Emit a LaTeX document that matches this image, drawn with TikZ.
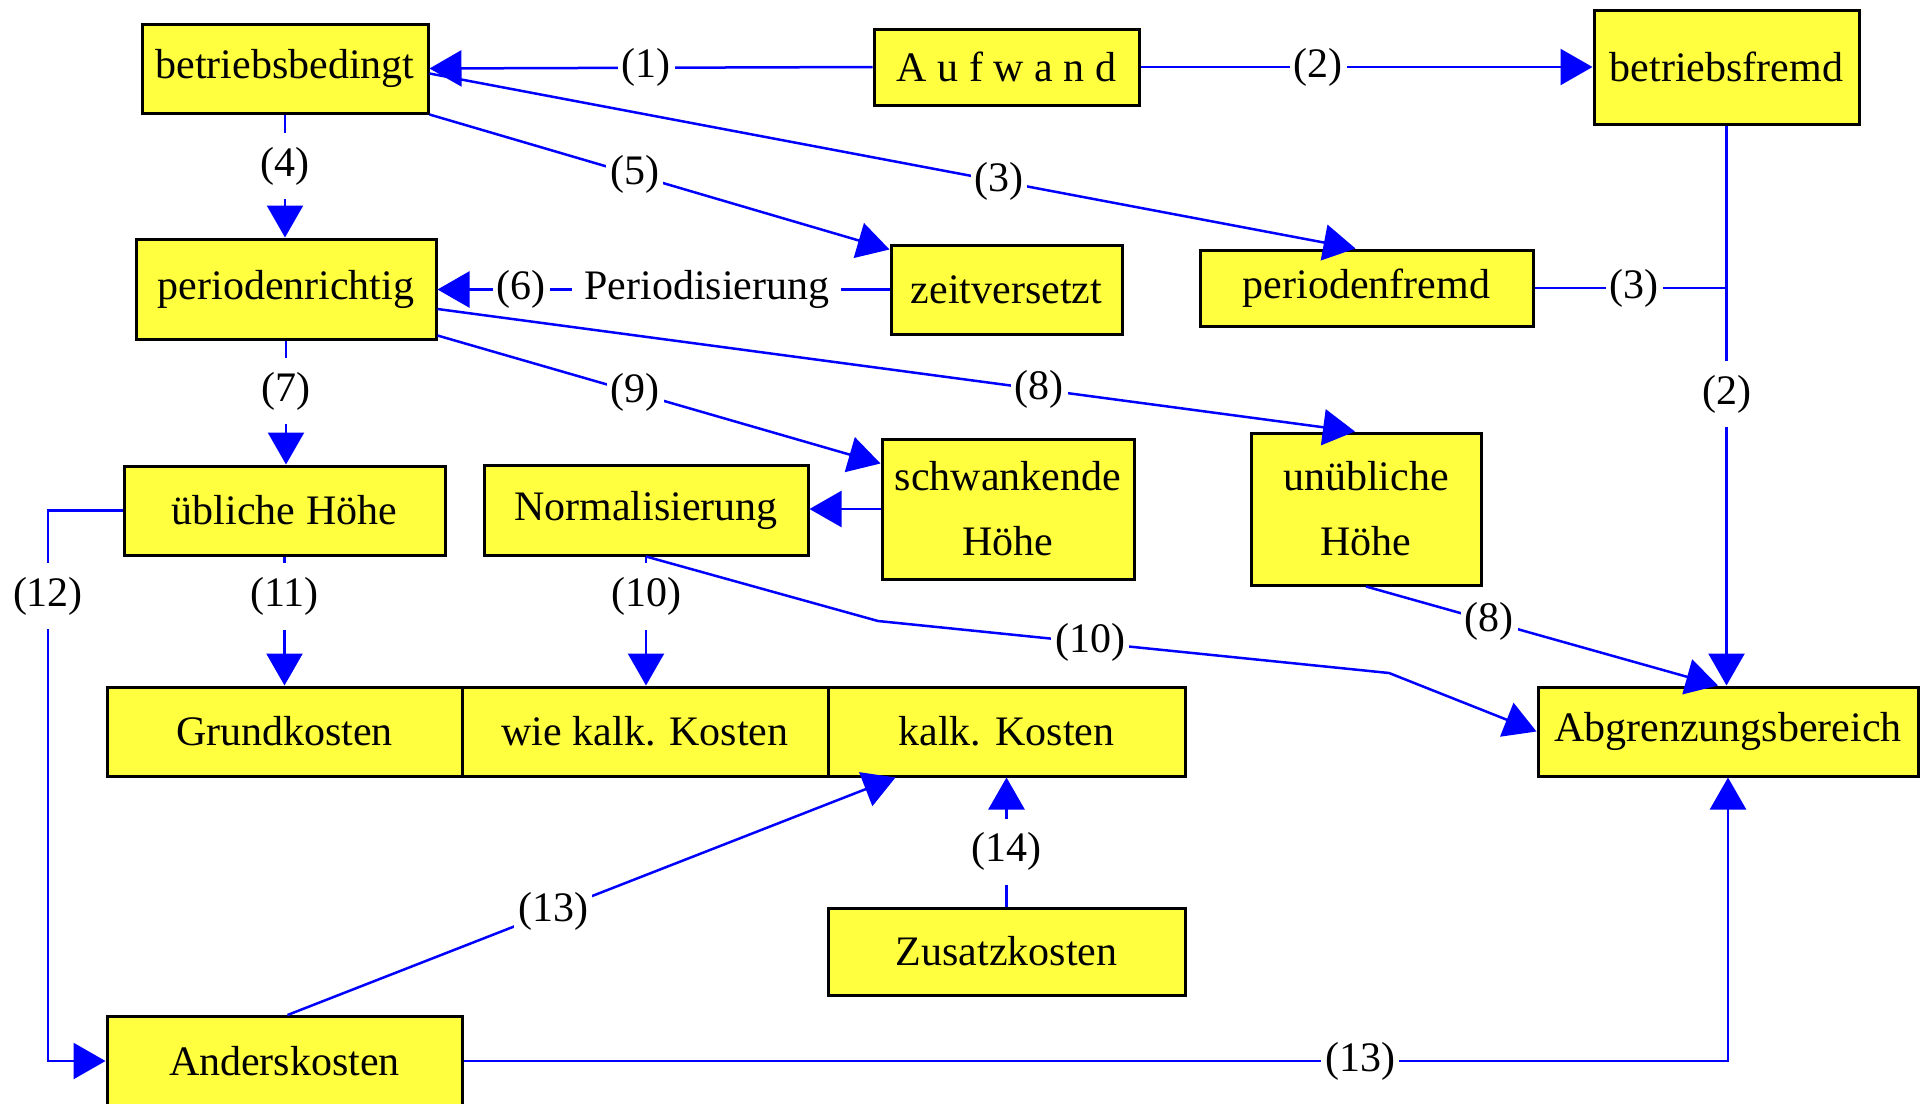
\documentclass[tikz,border=0pt]{standalone}
\usepackage{fontspec}
\setmainfont{Liberation Serif}
\usetikzlibrary{arrows.meta,calc}
\definecolor{boxyellow}{RGB}{255,255,64}
\definecolor{lineblue}{RGB}{0,0,255}
\begin{document}
\begin{tikzpicture}[x=1pt,y=-1pt,
  box/.style={draw=black, line width=3pt, fill=boxyellow, inner sep=0pt,
    font=\fontsize{42}{65}\selectfont, align=center},
  conn/.style={draw=lineblue, line width=2.5pt, -{Triangle[length=32pt,width=36pt]}},
  plainconn/.style={draw=lineblue, line width=2.5pt},
  lab/.style={fill=white, inner xsep=4pt, inner ysep=2pt, text=black,
    font=\fontsize{42}{50}\selectfont},
  vlab/.style={lab, inner ysep=14pt}]
\useasboundingbox (0,0) rectangle (1927,1103);
\fill[white] (0,0) rectangle (1927,1103);
% boxes
\node[box, minimum width=286pt, minimum height=89pt] (bb) at (285,68.5) {betriebsbedingt};
\node[box, minimum width=265pt, minimum height=76pt] (auf) at (1006.5,67) {A u f w a n d};
\node[box, minimum width=265pt, minimum height=114pt] (bf) at (1726.5,67) {betriebsfremd};
\node[box, minimum width=300pt, minimum height=100pt] (pr) at (286,289) {periodenrichtig};
\node[box, minimum width=231pt, minimum height=89pt] (zv) at (1006.5,289.5) {zeitversetzt};
\node[box, minimum width=333pt, minimum height=76pt] (pf) at (1366.5,288) {periodenfremd};
\node[box, minimum width=321pt, minimum height=89pt] (uh) at (284.5,510.5) {übliche Höhe};
\node[box, minimum width=324pt, minimum height=90pt] (no) at (646,510) {Normalisierung};
\node[box, minimum width=252pt, minimum height=140pt] (sh) at (1008,509) {schwankende\\Höhe};
\node[box, minimum width=230pt, minimum height=152pt] (unh) at (1366,509) {unübliche\\Höhe};
\node[box, minimum width=355pt, minimum height=89pt] (gk) at (284.5,731.5) {Grundkosten};
\node[box, minimum width=366pt, minimum height=89pt] (wk) at (645,731.5) {wie kalk. Kosten};
\node[box, minimum width=357pt, minimum height=89pt] (kk) at (1006.5,731.5) {kalk. Kosten};
\node[box, minimum width=380pt, minimum height=89pt] (ab) at (1728,731.5) {Abgrenzungsbereich};
\node[box, minimum width=357pt, minimum height=87pt] (zk) at (1006.5,951.5) {Zusatzkosten};
\node[box, minimum width=355pt, minimum height=89pt] (ak) at (284.5,1061) {Anderskosten};
% helper coordinates
\coordinate (c12) at (48,0);
\coordinate (c10a) at (878,621);
\coordinate (c10b) at (1389,673);
% connectors
\draw[conn] (auf.west) -- node[lab,pos=0.511]{(1)} (bb.east);
\draw[conn] (auf.east) -- node[lab,pos=0.393]{(2)} (bf.west);
\draw[conn] ($(bb.east)+(0,5)$) -- node[lab,pos=0.615]{(3)} ($(pf.north)+(-11,0)$);
\draw[conn] (bb.south) -- node[vlab,pos=0.42]{(4)} (bb.south |- pr.north);
\draw[conn] (bb.south east) -- node[lab,pos=0.446]{(5)} ($(zv.north west)+(0,6)$);
\draw[conn] (zv.west) -- node[lab,pos=0.404,inner xsep=12pt]{Periodisierung}
  node[lab,pos=0.815]{(6)} (zv.west -| pr.east);
\draw[conn] (pr.south) -- node[vlab,pos=0.41]{(7)} (pr.south |- uh.north);
\draw[conn] ($(pr.east)+(0,20)$) -- node[lab,pos=0.656]{(8)} ($(unh.north)+(-11,0)$);
\draw[conn] ($(pr.south east)+(0,-5)$) -- node[lab,pos=0.446]{(9)} ($(sh.north west)+(0,26)$);
\draw[conn] (sh.west) -- (sh.west -| no.east);
\draw[conn] (uh.south) -- node[vlab,pos=0.31]{(11)} (uh.south |- gk.north);
\draw[conn] (no.south) -- node[vlab,pos=0.31]{(10)} (no.south |- wk.north);
\draw[conn] (no.south) -- (c10a) -- node[lab,pos=0.415]{(10)} (c10b) -- (ab.west);
\draw[conn] (uh.west) -- (uh.west -| c12) -- node[vlab,pos=0.156]{(12)} (ak.west -| c12) -- (ak.west);
\draw[conn] ($(ak.north)+(3,0)$) -- node[lab,pos=0.437]{(13)} ($(kk.south west)+(69,0)$);
\draw[conn] (ak.east) -- node[lab,pos=0.709]{(13)} (ak.east -| ab.south) -- (ab.south);
\draw[conn] (zk.north) -- node[vlab,pos=0.424]{(14)} (kk.south);
\draw[conn] (bf.south) -- node[vlab,pos=0.48]{(2)} (bf.south |- ab.north);
\draw[plainconn] (pf.east) -- node[lab,pos=0.52]{(3)} (pf.east -| bf.south);
\draw[conn] (unh.south) -- node[lab,pos=0.35]{(8)} ($(ab.north)+(-10,0)$);
\end{tikzpicture}
\end{document}
